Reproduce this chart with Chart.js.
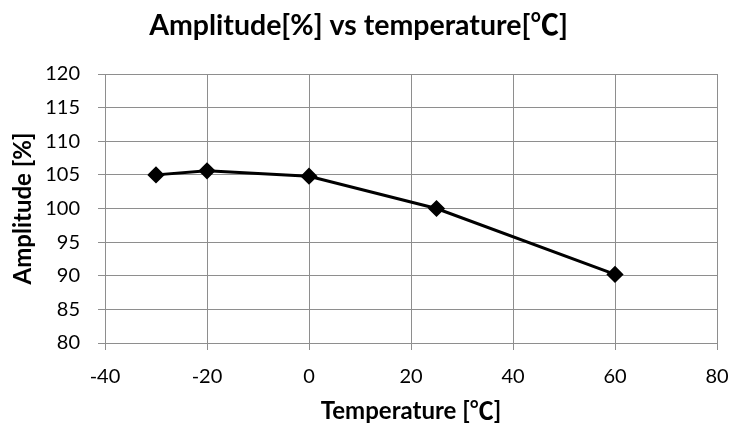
<!DOCTYPE html>
<html>
<head>
<meta charset="utf-8">
<script src="https://cdn.jsdelivr.net/npm/chart.js@4"></script>
<style>
html,body{margin:0;padding:0;background:#fff;}
#wrap{width:729px;height:430px;}
</style>
</head>
<body>
<div id="wrap"><canvas id="c" width="729" height="430"></canvas></div>
<script>
const temperatures = [-30, -20, 0, 25, 60];
const amplitudes = [105, 105.6, 104.8, 100, 90.2];
const xTicks = [-40, -20, 0, 20, 40, 60, 80];
const yTicks = [80, 85, 90, 95, 100, 105, 110, 115, 120];
const titleText = 'Amplitude[%] vs temperature[℃]';
const xTitle = 'Temperature [℃]';
const yTitle = 'Amplitude [%]';

const FONT = "Lato, 'Noto Sans CJK KR', sans-serif";
const GRID = '#8e8e8e';

new Chart(document.getElementById('c'), {
  type: 'scatter',
  data: {
    datasets: [{
      data: temperatures.map((t, i) => ({x: t, y: amplitudes[i]})),
      showLine: true,
      borderColor: '#000',
      backgroundColor: '#000',
      borderWidth: 3,
      pointStyle: 'rectRot',
      pointRadius: 6.5,
      pointHoverRadius: 6.5,
      tension: 0
    }]
  },
  options: {
    responsive: false,
    animation: false,
    devicePixelRatio: 1,
    layout: {padding: {left: 0, right: 12, top: 0, bottom: 0}},
    plugins: {
      legend: {display: false},
      tooltip: {enabled: false},
      title: {
        display: true,
        text: titleText,
        color: '#000',
        font: {family: FONT, size: 28.5, weight: 'bold', lineHeight: 1.2},
        padding: {top: 9, bottom: 30.8}
      }
    },
    scales: {
      x: {
        type: 'linear',
        min: -40, max: 80,
        afterBuildTicks: s => { s.ticks = xTicks.map(v => ({value: v})); },
        afterFit: s => { s.height = 87; s.paddingLeft = 0; s.paddingRight = 0; },
        grid: {color: GRID, lineWidth: 1, tickLength: 7, drawTicks: true},
        border: {color: GRID, width: 1},
        ticks: {color: '#000', font: {family: FONT, size: 20}, padding: 15, maxRotation: 0},
        title: {display: true, text: xTitle, color: '#000', font: {family: FONT, size: 24, weight: 'bold', lineHeight: 1.2}, padding: {top: 0, bottom: 4}}
      },
      y: {
        type: 'linear',
        min: 80, max: 120,
        afterBuildTicks: s => { s.ticks = yTicks.map(v => ({value: v})); },
        afterFit: s => { s.width = 105; s.paddingTop = 0; s.paddingBottom = 0; },
        grid: {color: GRID, lineWidth: 1, tickLength: 7, drawTicks: true},
        border: {color: GRID, width: 1},
        ticks: {color: '#000', font: {family: FONT, size: 20}, padding: 18},
        title: {display: true, text: yTitle, color: '#000', font: {family: FONT, size: 24, weight: 'bold', lineHeight: 1.2}, padding: {top: 9, bottom: 0}}
      }
    }
  }
});
</script>
</body>
</html>
